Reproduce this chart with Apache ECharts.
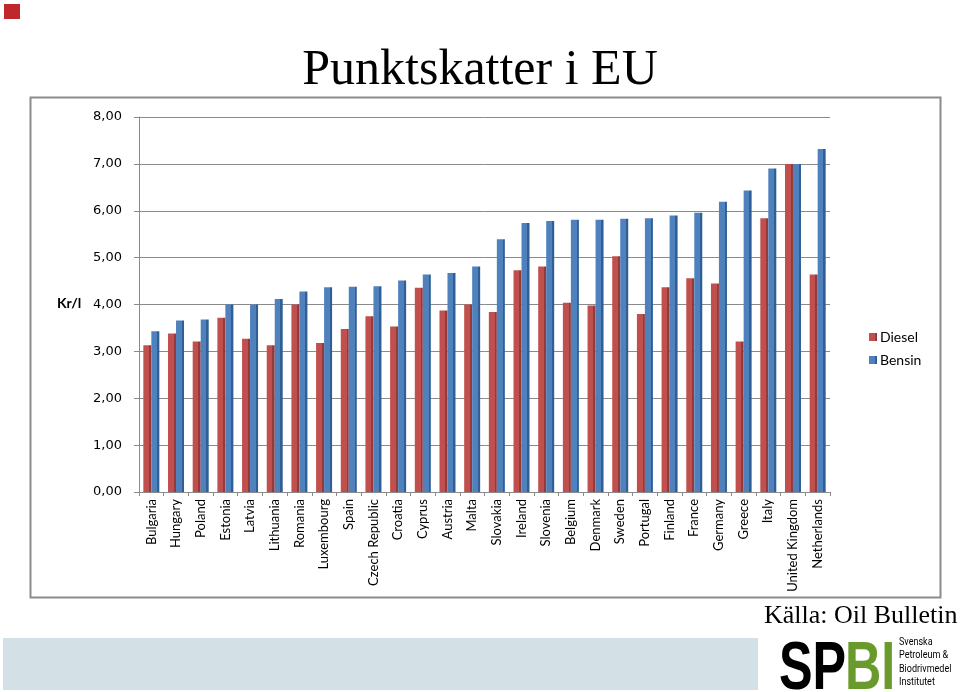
<!DOCTYPE html>
<html>
<head>
<meta charset="utf-8">
<script src="https://cdn.jsdelivr.net/npm/echarts@6/dist/echarts.min.js"></script>
<style>
  html, body { margin: 0; padding: 0; background: #fff; }
  #chart { width: 960px; height: 692px; }
</style>
</head>
<body>
<div id="chart"></div>
<script>
const countries = [
  'Bulgaria', 'Hungary', 'Poland', 'Estonia', 'Latvia', 'Lithuania', 'Romania',
  'Luxembourg', 'Spain', 'Czech Republic', 'Croatia', 'Cyprus', 'Austria', 'Malta',
  'Slovakia', 'Ireland', 'Slovenia', 'Belgium', 'Denmark', 'Sweden', 'Portugal',
  'Finland', 'France', 'Germany', 'Greece', 'Italy', 'United Kingdom', 'Netherlands'
]
const diesel = [
  3.13, 3.38, 3.21, 3.72, 3.27, 3.13, 4.00,
  3.18, 3.48, 3.75, 3.53, 4.36, 3.87, 4.00,
  3.84, 4.73, 4.81, 4.04, 3.98, 5.03, 3.80,
  4.37, 4.56, 4.45, 3.21, 5.84, 7.00, 4.64
]
const bensin = [
  3.43, 3.66, 3.68, 4.00, 4.00, 4.12, 4.28,
  4.37, 4.38, 4.39, 4.51, 4.64, 4.67, 4.81,
  5.39, 5.74, 5.78, 5.81, 5.81, 5.83, 5.84,
  5.90, 5.96, 6.19, 6.43, 6.90, 7.00, 7.32
]
const yTicks = [0, 1, 2, 3, 4, 5, 6, 7, 8]

// face colour + darker right side to fake the 3D column look
function sideShade(face, side) {
  return {
    type: 'linear', x: 0, y: 0, x2: 1, y2: 0,
    colorStops: [
      { offset: 0, color: face },
      { offset: 0.72, color: face },
      { offset: 0.72, color: side },
      { offset: 1, color: side },
    ],
  }
}

const chart = echarts.init(document.getElementById('chart'))

chart.setOption({
  animation: false,
  backgroundColor: '#fff',
  title: {
    text: 'Punktskatter i EU',
    left: 'center',
    top: 41,
    textStyle: { fontFamily: 'Liberation Serif', fontSize: 50, fontWeight: 'normal', color: '#000' },
  },
  legend: {
    orient: 'vertical',
    left: 864,
    top: 325,
    itemWidth: 8,
    itemHeight: 8,
    itemGap: 9,
    icon: 'rect',
    textStyle: { fontFamily: 'Lato', fontSize: 14, color: '#000', padding: [0, 0, 0, -2] },
    data: ['Diesel', 'Bensin'],
  },
  grid: { left: 139, right: 130, top: 117, bottom: 200 },
  xAxis: {
    type: 'category',
    data: countries,
    axisLine: { lineStyle: { color: '#8a8a8a', width: 1 } },
    axisTick: { show: true, length: 4, lineStyle: { color: '#8a8a8a' } },
    axisLabel: {
      interval: 0,
      rotate: 90,
      margin: 7,
      fontFamily: 'Lato',
      fontSize: 13,
      color: '#000',
    },
  },
  yAxis: {
    type: 'value',
    min: 0,
    max: 8,
    interval: 1,
    axisLine: { show: true, lineStyle: { color: '#8a8a8a' } },
    axisTick: { show: true, length: 5, lineStyle: { color: '#8a8a8a' } },
    axisLabel: {
      margin: 17,
      fontFamily: 'DejaVu Sans',
      fontSize: 13,
      color: '#000',
      formatter: (v) => yTicks.includes(v) ? v.toFixed(2).replace('.', ',') : '',
    },
    splitLine: { lineStyle: { color: '#8a8a8a', width: 1 } },
  },
  series: [
    {
      name: 'Diesel',
      type: 'bar',
      data: diesel,
      barWidth: 8,
      barGap: '0%',
      color: '#c0504d',
      itemStyle: { color: sideShade('#c0504d', '#96393a') },
    },
    {
      name: 'Bensin',
      type: 'bar',
      data: bensin,
      barWidth: 8,
      color: '#4f81bd',
      itemStyle: { color: sideShade('#4f81bd', '#2f5f95') },
    },
  ],
  graphic: [
    // slide marker
    { type: 'rect', shape: { x: 4, y: 4, width: 16, height: 15 }, style: { fill: '#c0272d' }, silent: true },
    // chart frame
    {
      type: 'rect', shape: { x: 30.5, y: 97.5, width: 910, height: 500 },
      style: { fill: 'none', stroke: '#8c8c8c', lineWidth: 2 }, silent: true, z: -1,
    },
    {
      type: 'text', left: 57, top: 296,
      style: { text: 'Kr/l', fontFamily: 'Lato', fontWeight: 'bold', fontSize: 14, fill: '#000' },
    },
    // footer band
    { type: 'rect', shape: { x: 3, y: 638, width: 755, height: 52 }, style: { fill: '#d3e0e6' }, silent: true },
    {
      type: 'text', left: 764, top: 603,
      style: { text: 'Källa: Oil Bulletin', fontFamily: 'Liberation Serif', fontSize: 26, fill: '#000' },
    },
    // SPBI logo
    {
      type: 'text', x: 779, y: 636, scaleX: 0.74,
      style: { text: 'SP', fontFamily: 'Liberation Sans', fontWeight: 'bold', fontSize: 68, fill: '#000' },
    },
    {
      type: 'text', x: 845, y: 636, scaleX: 0.74,
      style: { text: 'BI', fontFamily: 'Liberation Sans', fontWeight: 'bold', fontSize: 68, fill: '#6a9a2b' },
    },
    {
      type: 'text', x: 899, y: 635, scaleX: 0.82,
      style: {
        text: 'Svenska\nPetroleum &\nBiodrivmedel\nInstitutet',
        fontFamily: 'Roboto', fontSize: 11, lineHeight: 13.5, fill: '#000',
      },
    },
  ],
})
</script>
</body>
</html>
